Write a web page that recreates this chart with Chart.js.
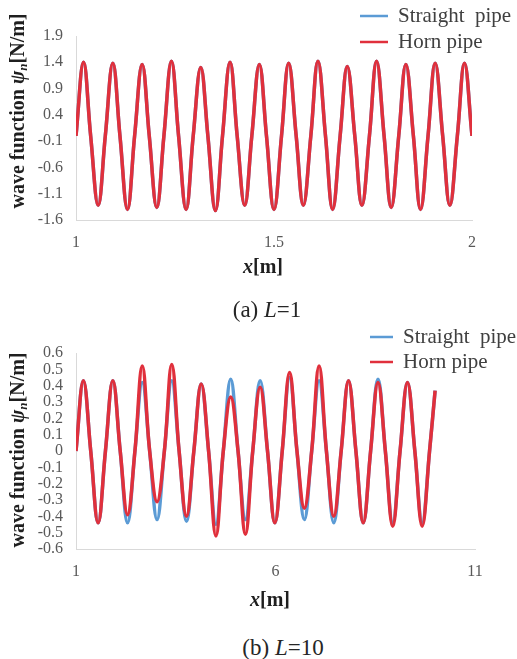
<!DOCTYPE html>
<html><head><meta charset="utf-8">
<script src="https://cdn.jsdelivr.net/npm/chart.js@4.4.1/dist/chart.umd.min.js"></script>
<style>
html,body{margin:0;padding:0;background:#fff;}
#wrap{position:relative;width:517px;height:659px;overflow:hidden;background:#fff;}
.cv{position:absolute;left:0;}
.cap{position:absolute;font-family:'Liberation Serif',serif;font-size:23px;color:#262626;white-space:nowrap;transform:translate(-50%,-50%);line-height:1;}
</style></head><body>
<div id="wrap">
  <canvas id="cA" class="cv" width="517" height="300" style="top:0"></canvas>
  <div class="cap" style="left:267px;top:309px">(a) <i>L</i>=1</div>
  <canvas id="cB" class="cv" width="517" height="300" style="top:320px"></canvas>
  <div class="cap" style="left:283px;top:647px">(b) <i>L</i>=10</div>
</div>
<script>
// ---------- data ----------
const seriesNames = ['Straight  pipe', 'Horn pipe'];

// (a) L=1 : x positions of zero crossings / extrema
const xA = [1.000,1.019,1.037,1.056,1.074,1.093,1.111,1.130,1.148,1.167,1.185,1.204,1.222,1.241,1.259,1.278,1.296,1.315,1.333,1.352,1.370,1.389,1.407,1.426,1.444,1.463,1.481,1.500,1.519,1.537,1.556,1.574,1.593,1.611,1.630,1.648,1.667,1.685,1.704,1.722,1.741,1.759,1.778,1.796,1.815,1.833,1.852,1.870,1.889,1.907,1.926,1.944,1.963,1.981,2.000];
const hornA = [0,1.40,0,-1.32, 0,1.38,0,-1.40, 0,1.36,0,-1.36, 0,1.42,0,-1.40, 0,1.30,0,-1.42, 0,1.40,0,-1.32, 0,1.36,0,-1.40, 0,1.38,0,-1.32, 0,1.42,0,-1.40, 0,1.32,0,-1.32, 0,1.42,0,-1.36, 0,1.36,0,-1.40, 0,1.38,0,-1.32, 0,1.38,0];
const straightA = [0,1.40,0,-1.32, 0,1.38,0,-1.40, 0,1.36,0,-1.36, 0,1.42,0,-1.40, 0,1.30,0,-1.42, 0,1.40,0,-1.32, 0,1.36,0,-1.40, 0,1.38,0,-1.32, 0,1.42,0,-1.40, 0,1.32,0,-1.32, 0,1.42,0,-1.36, 0,1.36,0,-1.40, 0,1.38,0,-1.32, 0,1.38,0];
const yTicksA = [-1.6,-1.1,-0.6,-0.1,0.4,0.9,1.4,1.9];
const xTicksA = [1,1.5,2];

// (b) L=10
const xB = [1.000,1.185,1.369,1.554,1.738,1.923,2.108,2.292,2.477,2.661,2.846,3.031,3.215,3.400,3.584,3.769,3.954,4.138,4.323,4.507,4.692,4.877,5.061,5.246,5.430,5.615,5.800,5.984,6.169,6.353,6.538,6.723,6.907,7.092,7.276,7.461,7.646,7.830,8.015,8.199,8.384,8.569,8.753,8.938,9.122,9.307,9.492,9.676,9.861,10.000];
const hornB = [0,0.43,0,-0.44, 0,0.43,0,-0.39, 0,0.52,0,-0.31, 0,0.53,0,-0.40, 0,0.41,0,-0.52, 0,0.33,0,-0.51, 0,0.39,0,-0.44, 0,0.48,0,-0.35, 0,0.52,0,-0.40, 0,0.43,0,-0.44, 0,0.42,0,-0.46, 0,0.42,0,-0.46, 0,0.37];
const straightB = [0,0.43,0,-0.44, 0,0.43,0,-0.44, 0,0.42,0,-0.42, 0,0.43,0,-0.43, 0,0.41,0,-0.45, 0,0.44,0,-0.42, 0,0.43,0,-0.44, 0,0.45,0,-0.42, 0,0.43,0,-0.44, 0,0.43,0,-0.44, 0,0.44,0,-0.44, 0,0.42,0,-0.44, 0,0.37];
const yTicksB = [-0.6,-0.5,-0.4,-0.3,-0.2,-0.1,0,0.1,0.2,0.3,0.4,0.5,0.6];
const xTicksB = [1,6,11];

// ---------- drawing ----------
const FONT = '"Liberation Serif", serif';
const COLORS = ['#5b9bd5', '#e0303c'];

function drawRich(ctx, segs, cx, cy, rot) {
  ctx.save();
  ctx.translate(cx, cy);
  ctx.rotate(rot);
  let total = 0;
  segs.forEach(s => { ctx.font = s.f; s.w = ctx.measureText(s.t).width; total += s.w; });
  let x = -total / 2;
  ctx.textBaseline = 'middle';
  ctx.textAlign = 'left';
  ctx.fillStyle = '#1f1f1f';
  segs.forEach(s => { ctx.font = s.f; ctx.fillText(s.t, x, s.dy || 0); x += s.w; });
  ctx.restore();
}

const decor = {
  id: 'decor',
  afterDraw(chart, args, o) {
    const ctx = chart.ctx;
    drawRich(ctx, [
      {t: 'wave function ', f: 'bold 20px ' + FONT},
      {t: 'ψ', f: 'italic bold 20px ' + FONT},
      {t: 'n', f: 'italic bold 13px ' + FONT, dy: 5},
      {t: '[N/m]', f: 'bold 20px ' + FONT}
    ], o.yx, o.yy, -Math.PI / 2);
    drawRich(ctx, [
      {t: 'x', f: 'italic bold 20px ' + FONT},
      {t: '[m]', f: 'bold 20px ' + FONT}
    ], o.xx, o.xy, 0);
    ctx.save();
    chart.data.datasets.forEach((ds, i) => {
      const y = o.ly + i * o.ldy;
      ctx.strokeStyle = ds.borderColor;
      ctx.lineWidth = 2.5;
      ctx.beginPath(); ctx.moveTo(o.lx1, y); ctx.lineTo(o.lx2, y); ctx.stroke();
      ctx.fillStyle = '#404040';
      ctx.font = '21px ' + FONT;
      ctx.textBaseline = 'middle';
      ctx.textAlign = 'left';
      ctx.fillText(ds.label, o.ltx, y);
    });
    ctx.restore();
  }
};

function makeChart(id, xs, straight, horn, yTicks, xTicks, yFmt, layout, deco, xAxisH) {
  const tickFont = {family: FONT, size: 16};
  const common = {borderWidth: 3.5, pointRadius: 0, cubicInterpolationMode: 'default', tension: 0.4, fill: false};
  return new Chart(document.getElementById(id), {
    type: 'line',
    data: {
      datasets: [
        Object.assign({label: seriesNames[0], data: xs.map((x, i) => ({x: x, y: straight[i]})), borderColor: COLORS[0], order: 1}, common),
        Object.assign({label: seriesNames[1], data: xs.map((x, i) => ({x: x, y: horn[i]})), borderColor: COLORS[1], order: 0}, common)
      ]
    },
    options: {
      responsive: false,
      animation: false,
      layout: {padding: layout},
      plugins: {legend: {display: false}, tooltip: {enabled: false}, decor: deco},
      scales: {
        x: {
          type: 'linear', min: xTicks[0], max: xTicks[xTicks.length - 1],
          afterBuildTicks: s => { s.ticks = xTicks.map(v => ({value: v})); },
          ticks: {padding: 13, color: '#595959', font: tickFont, maxRotation: 0, autoSkip: false, callback: v => String(v)},
          grid: {display: true, drawOnChartArea: false, drawTicks: false},
          border: {display: true, color: '#d9d9d9', width: 1},
          afterFit: s => { s.height = xAxisH; }
        },
        y: {
          type: 'linear', min: yTicks[0], max: yTicks[yTicks.length - 1],
          afterBuildTicks: s => { s.ticks = yTicks.map(v => ({value: v})); },
          ticks: {padding: 13, color: '#595959', font: tickFont, autoSkip: false, callback: yFmt},
          grid: {display: true, drawOnChartArea: false, drawTicks: false},
          border: {display: true, color: '#d9d9d9', width: 1},
          afterFit: s => { s.width = 50; }
        }
      }
    },
    plugins: [decor]
  });
}

makeChart('cA', xA, straightA, hornA, yTicksA, xTicksA,
  v => Number(v).toFixed(1),
  {left: 26, right: 45, top: 36, bottom: 0},
  {yx: 19, yy: 111, xx: 263, xy: 268, lx1: 360, lx2: 388, ltx: 398, ly: 16, ldy: 26},
  80);
makeChart('cB', xB, straightB, hornB, yTicksB, xTicksB,
  v => Math.abs(v) < 1e-9 ? '0' : Number(v).toFixed(1),
  {left: 26, right: 42, top: 33, bottom: 0},
  {yx: 19, yy: 130, xx: 270, xy: 281, lx1: 370, lx2: 393, ltx: 403, ly: 17, ldy: 25},
  71);
</script>
</body></html>
